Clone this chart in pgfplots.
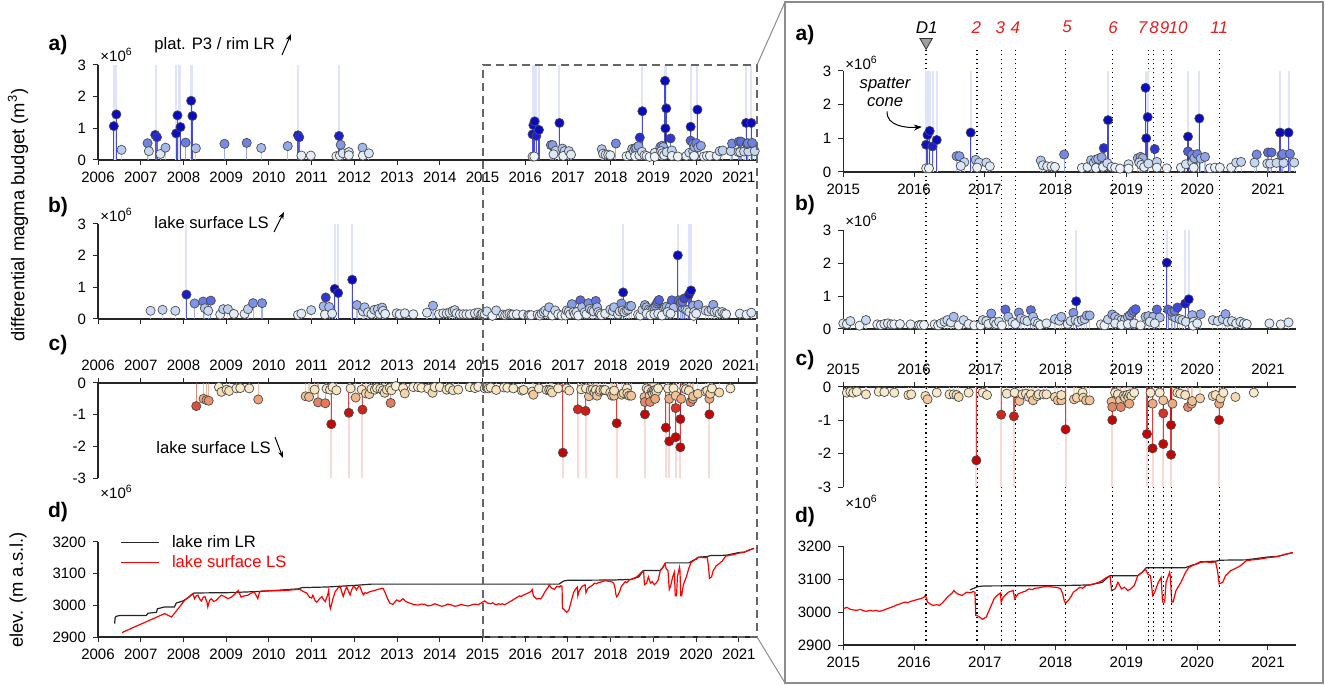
\documentclass[border=0pt]{standalone}
\usepackage{fontspec}
\setmainfont{Liberation Sans}
\usepackage{pgfplots}
\pgfplotsset{compat=1.18}
\usepackage{pgfplotstable}
\usetikzlibrary{arrows.meta}

\definecolor{faintblue}{RGB}{224,228,250}
\definecolor{faintred}{RGB}{250,218,214}
\definecolor{boxgray}{RGB}{140,140,140}
\definecolor{axisgray}{RGB}{38,38,38}
\definecolor{evred}{RGB}{230,30,30}

\pgfplotsset{
  colormap={blues}{rgb255=(240,244,251) rgb255=(205,222,243) rgb255=(160,182,236) rgb255=(105,125,228) rgb255=(40,45,210) rgb255=(10,10,195)},
  colormap={reds}{rgb255=(250,240,212) rgb255=(246,222,180) rgb255=(240,182,135) rgb255=(228,120,90) rgb255=(210,40,30) rgb255=(195,5,5)},
  panel/.style={scale only axis, anchor=south west,
    axis line style={axisgray, line width=0.6pt},
    tick style={axisgray, line width=0.5pt},
    tick align=outside, major tick length=2.5pt,
    tick label style={font=\fontsize{7.5}{9}\selectfont},
    /pgf/number format/1000 sep={},
    /pgf/number format/assume math mode=true},
  leftx/.style={xmin=2006, xmax=2021.4, xtick={2006,...,2021}, width=329pt},
  rightx/.style={xmin=2015, xmax=2021.4, xtick={2015,...,2021}, width=226.5pt,
    restrict x to domain=2014.99:2021.45},
  budget/.style={ymin=0, ymax=3, ytick={0,1,2,3}, axis x line*=bottom, axis y line*=left,
    colormap name=blues, point meta min=0.1, point meta max=0.85},
  loss/.style={ymin=-3, ymax=0, ytick={-3,-2,-1,0}, yticklabels={-3,-2,-1,0},
    axis x line*=top, axis y line*=left,
    colormap name=reds, point meta min=0.1, point meta max=1.0},
  elev/.style={ymin=2900, ymax=3200, ytick={2900,3000,3100,3200}, axis x line*=bottom, axis y line*=left},
  dots/.style={scatter, only marks, mark=*, mark size=2.3pt,
    scatter/use mapped color={draw=black!70, fill=mapped color},
    mark options={line width=0.35pt}},
  stems/.style={quiver={u=0, v={-(\thisrow{y})}, colored}, line width=0.6pt, opacity=0.7, forget plot},
  evline/.style={black, line width=0.65pt, dash pattern=on 0.65pt off 1.6pt, forget plot},
}

% differential magma budget, plateau P3 / rim LR (10^6 m^3)
\pgfplotstableread{
x y
2006.37 1.07
2006.43 1.44
2006.55 0.32
2007.16 0.53
2007.19 0.28
2007.34 0.79
2007.38 0.72
2007.46 0.19
2007.58 0.39
2007.83 0.84
2007.86 1.41
2007.93 1.04
2008.05 0.55
2008.18 1.87
2008.21 1.39
2008.29 0.37
2008.96 0.51
2009.48 0.54
2009.82 0.38
2010.44 0.44
2010.68 0.78
2010.71 0.72
2010.76 0.14
2010.98 0.14
2011.58 0.12
2011.64 0.76
2011.68 0.48
2011.66 0.14
2011.73 0.21
2011.87 0.25
2011.87 0.15
2012.19 0.39
2012.20 0.14
2012.34 0.21
2016.17 0.11
2016.21 0.11
2016.17 0.81
2016.19 1.10
2016.22 1.22
2016.26 0.76
2016.32 0.95
2016.60 0.47
2016.64 0.47
2016.71 0.29
2016.66 0.18
2016.80 1.17
2016.87 0.36
2016.92 0.28
2016.89 0.13
2017.02 0.28
2017.07 0.17
2017.79 0.34
2017.82 0.20
2017.88 0.17
2017.94 0.17
2017.99 0.15
2018.12 0.52
2018.37 0.12
2018.45 0.15
2018.50 0.35
2018.54 0.28
2018.57 0.37
2018.60 0.39
2018.65 0.44
2018.57 0.12
2018.67 0.15
2018.73 0.26
2018.79 0.15
2018.84 0.13
2018.91 0.10
2018.68 0.71
2018.74 1.54
2019.03 0.23
2019.03 0.10
2019.16 0.41
2019.20 0.45
2019.23 0.41
2019.18 0.28
2019.21 0.21
2019.25 0.15
2019.31 0.25
2019.27 2.50
2019.30 1.63
2019.28 1.00
2019.40 0.68
2019.43 0.30
2019.43 0.13
2019.57 0.11
2019.77 0.13
2019.84 0.23
2019.93 0.28
2019.95 0.13
2019.87 0.61
2019.93 0.51
2019.96 0.41
2020.00 0.53
2020.05 0.40
2020.11 0.45
2019.87 1.05
2020.03 1.59
2020.18 0.11
2020.25 0.13
2020.32 0.13
2020.48 0.13
2020.55 0.28
2020.62 0.30
2020.81 0.28
2020.84 0.52
2020.99 0.25
2021.03 0.25
2021.12 0.27
2021.22 0.27
2021.37 0.28
2021.00 0.58
2021.05 0.58
2021.19 0.50
2021.21 0.53
2021.31 0.54
2021.17 1.17
2021.29 1.17
}\aTab
\pgfplotstableread{
x y
2006.37 3
2006.43 3
2007.36 3
2007.83 3
2007.90 3
2007.93 3
2008.18 3
2008.21 3
2010.68 3
2011.64 3
2016.17 3
2016.19 3
2016.22 3
2016.26 3
2016.32 3
2016.80 3
2018.74 3
2019.27 3
2019.30 3
2019.87 3
2020.03 3
2021.17 3
2021.29 3
}\aHi

% lake surface LS, gains (10^6 m^3)
\pgfplotstableread{
x y
2007.23 0.26
2007.51 0.29
2007.81 0.26
2008.07 0.77
2008.26 0.49
2008.46 0.55
2008.50 0.34
2008.58 0.26
2008.64 0.58
2008.86 0.14
2008.93 0.31
2009.04 0.31
2009.18 0.16
2009.43 0.16
2009.51 0.31
2009.63 0.50
2009.84 0.50
2010.68 0.13
2010.76 0.17
2010.99 0.28
2011.28 0.40
2011.31 0.14
2011.41 0.38
2011.48 0.17
2011.33 0.68
2011.54 0.95
2011.62 0.82
2011.95 1.24
2012.06 0.44
2012.20 0.24
2012.24 0.37
2012.32 0.21
2012.40 0.16
2012.47 0.29
2012.55 0.31
2012.59 0.16
2012.65 0.36
2012.67 0.26
2012.72 0.16
2012.99 0.18
2013.06 0.15
2013.18 0.18
2013.38 0.15
2013.70 0.20
2013.84 0.42
2013.98 0.15
2014.08 0.18
2014.16 0.18
2014.23 0.20
2014.30 0.25
2014.35 0.28
2014.39 0.18
2014.47 0.15
2014.55 0.15
2014.62 0.15
2014.70 0.15
2014.82 0.18
2014.90 0.20
2014.97 0.15
2015.00 0.17
2015.05 0.15
2015.10 0.24
2015.23 0.10
2015.32 0.27
2015.48 0.14
2015.53 0.12
2015.58 0.15
2015.63 0.17
2015.68 0.14
2015.72 0.14
2015.80 0.15
2015.95 0.14
2016.07 0.12
2016.10 0.12
2016.14 0.12
2016.29 0.14
2016.34 0.11
2016.38 0.17
2016.43 0.22
2016.47 0.27
2016.52 0.20
2016.56 0.37
2016.63 0.11
2016.70 0.27
2016.77 0.15
2016.85 0.11
2016.94 0.11
2016.97 0.27
2017.02 0.24
2017.05 0.15
2017.09 0.47
2017.13 0.22
2017.16 0.15
2017.20 0.22
2017.24 0.11
2017.29 0.59
2017.33 0.37
2017.39 0.21
2017.43 0.15
2017.48 0.50
2017.51 0.32
2017.56 0.27
2017.60 0.24
2017.65 0.57
2017.68 0.37
2017.71 0.22
2017.75 0.17
2017.78 0.12
2017.87 0.17
2017.99 0.30
2018.05 0.25
2018.08 0.37
2018.17 0.15
2018.21 0.24
2018.25 0.49
2018.28 0.27
2018.32 0.22
2018.37 0.27
2018.41 0.30
2018.44 0.41
2018.48 0.41
2018.29 0.84
2018.64 0.14
2018.69 0.11
2018.74 0.29
2018.80 0.44
2018.84 0.37
2018.89 0.30
2018.93 0.27
2018.98 0.29
2019.02 0.37
2019.05 0.42
2019.08 0.49
2019.10 0.55
2019.13 0.60
2018.84 0.17
2018.93 0.12
2019.02 0.15
2019.11 0.17
2019.20 0.11
2019.27 0.37
2019.31 0.39
2019.38 0.37
2019.43 0.59
2019.47 0.35
2019.33 0.22
2019.40 0.17
2019.65 0.39
2019.69 0.35
2019.75 0.30
2019.79 0.27
2019.84 0.22
2019.59 0.59
2019.64 0.52
2019.68 0.55
2019.72 0.65
2019.93 0.42
2019.95 0.22
2020.05 0.45
2019.94 0.10
2020.00 0.17
2019.57 2.01
2019.83 0.77
2019.88 0.90
2020.22 0.27
2020.29 0.24
2020.36 0.30
2020.40 0.45
2020.43 0.22
2020.49 0.24
2020.55 0.17
2020.61 0.22
2020.66 0.17
2020.70 0.15
2021.02 0.17
2021.18 0.14
2021.29 0.20
}\bTab
\pgfplotstableread{
x y
2008.07 3
2011.54 3
2011.62 3
2011.95 3
2018.29 3
2019.57 3
2019.83 3
2019.88 3
}\bHi

% lake surface LS, losses (10^6 m^3)
\pgfplotstableread{
x y
2008.83 -0.13
2008.89 -0.28
2009.01 -0.21
2009.07 -0.25
2009.24 -0.17
2009.33 -0.16
2009.54 -0.17
2008.47 -0.50
2008.54 -0.54
2008.59 -0.56
2008.30 -0.73
2009.75 -0.52
2010.86 -0.42
2010.94 -0.44
2011.07 -0.21
2011.35 -0.18
2011.43 -0.21
2011.49 -0.13
2011.58 -0.23
2011.15 -0.61
2011.32 -0.64
2011.46 -1.30
2011.91 -0.17
2011.87 -0.94
2012.03 -0.46
2012.17 -0.21
2012.27 -0.33
2012.35 -0.35
2012.40 -0.18
2012.48 -0.21
2012.53 -0.16
2012.61 -0.18
2012.67 -0.23
2012.71 -0.31
2012.76 -0.21
2012.83 -0.16
2012.87 -0.23
2012.97 -0.10
2013.14 -0.16
2013.18 -0.33
2012.19 -0.84
2012.85 -0.63
2013.38 -0.13
2013.49 -0.13
2013.57 -0.15
2013.73 -0.18
2013.83 -0.31
2013.88 -0.13
2014.00 -0.13
2014.16 -0.21
2014.23 -0.16
2014.31 -0.23
2014.43 -0.21
2014.70 -0.13
2014.82 -0.16
2014.90 -0.12
2015.05 -0.17
2015.10 -0.14
2015.14 -0.17
2015.19 -0.14
2015.32 -0.22
2015.50 -0.14
2015.58 -0.15
2015.72 -0.17
2015.92 -0.24
2015.96 -0.22
2016.16 -0.27
2016.19 -0.37
2016.32 -0.17
2016.50 -0.22
2016.56 -0.22
2016.60 -0.24
2016.63 -0.30
2016.77 -0.17
2016.97 -0.17
2017.03 -0.24
2017.31 -0.20
2017.42 -0.17
2017.49 -0.42
2017.53 -0.22
2017.58 -0.20
2017.62 -0.30
2017.65 -0.22
2017.68 -0.40
2017.74 -0.27
2017.76 -0.22
2017.83 -0.22
2017.87 -0.22
2017.99 -0.30
2018.03 -0.40
2018.08 -0.40
2018.08 -0.24
2018.26 -0.37
2018.30 -0.32
2018.38 -0.17
2018.39 -0.32
2018.43 -0.40
2018.48 -0.40
2018.79 -0.44
2018.80 -0.60
2018.84 -0.17
2018.88 -0.22
2018.91 -0.40
2018.92 -0.60
2018.96 -0.27
2018.98 -0.32
2019.01 -0.24
2019.03 -0.30
2019.05 -0.22
2019.07 -0.27
2019.11 -0.17
2019.04 -0.50
2019.34 -0.17
2019.37 -0.50
2019.47 -0.17
2019.52 -0.79
2019.52 -0.40
2019.65 -0.50
2019.72 -0.17
2019.76 -0.20
2019.83 -0.24
2019.87 -0.60
2019.92 -0.50
2019.93 -0.42
2020.04 -0.34
2020.22 -0.27
2020.26 -0.24
2020.31 -0.50
2020.33 -0.34
2020.37 -0.17
2020.54 -0.30
2020.80 -0.17
2016.88 -2.20
2017.23 -0.83
2017.41 -0.88
2018.14 -1.27
2018.80 -0.99
2019.29 -1.41
2019.37 -1.84
2019.52 -1.71
2019.63 -1.14
2019.63 -2.03
2020.31 -0.99
}\cTab
\pgfplotstableread{
x y
2011.46 -3
2011.87 -3
2012.19 -3
2016.88 -3
2017.23 -3
2017.41 -3
2018.14 -3
2018.80 -3
2019.29 -3
2019.37 -3
2019.52 -3
2019.63 -3
2020.31 -3
}\cHi

% lake rim LR (m a.s.l.)
\pgfplotstableread{
x y
2006.39 2942
2006.40 2960
2006.42 2965
2006.51 2968
2007.13 2968
2007.17 2975
2007.37 2978
2007.39 2989
2007.56 2995
2007.79 2995
2007.83 3007
2007.99 3014
2008.11 3024
2008.22 3037
2008.26 3039
2009.04 3040
2009.82 3044
2010.68 3052
2010.78 3056
2011.38 3058
2012.01 3063
2012.40 3067
2016.79 3067
2016.90 3077
2016.99 3079
2018.07 3080
2018.48 3082
2018.66 3090
2018.75 3108
2018.77 3110
2019.16 3110
2019.22 3120
2019.27 3132
2019.28 3134
2019.83 3134
2019.88 3138
2019.93 3142
2020.02 3147
2020.04 3152
2020.26 3154
2020.33 3157
2020.69 3158
2020.87 3163
2021.01 3167
2021.13 3168
2021.25 3175
2021.35 3180
}\rimTab

% lake surface LS (m a.s.l.)
\pgfplotstableread{
x y
2006.56 2914
2007.56 2974
2007.72 2963
2008.03 3016
2008.22 3037
2008.26 3021
2008.30 3030
2008.34 3032
2008.38 3020
2008.42 3014
2008.46 3025
2008.50 3028
2008.55 3010
2008.57 2995
2008.61 3015
2008.65 3021
2008.71 3012
2008.77 3016
2008.83 3025
2008.89 3032
2008.96 3028
2009.04 3021
2009.12 3026
2009.20 3035
2009.28 3047
2009.35 3026
2009.43 3030
2009.51 3032
2009.58 3038
2009.66 3042
2009.74 3021
2009.78 3042
2009.82 3045
2010.00 3046
2010.20 3046
2010.40 3047
2010.55 3049
2010.68 3050
2010.72 3051
2010.80 3044
2010.88 3039
2010.95 3026
2011.00 3023
2011.03 3032
2011.08 3015
2011.12 3010
2011.18 3020
2011.24 3028
2011.28 3018
2011.32 3012
2011.38 3035
2011.40 3048
2011.42 3000
2011.44 2990
2011.47 3005
2011.49 3017
2011.55 3043
2011.62 3055
2011.67 3059
2011.71 3040
2011.74 3028
2011.78 3045
2011.82 3059
2011.86 3045
2011.90 3033
2011.94 3050
2011.98 3060
2012.02 3055
2012.05 3049
2012.10 3060
2012.13 3059
2012.17 3045
2012.21 3033
2012.25 3040
2012.29 3038
2012.36 3043
2012.45 3046
2012.52 3049
2012.60 3052
2012.67 3054
2012.72 3040
2012.78 3020
2012.83 3007
2012.90 3003
2012.99 3017
2013.06 3012
2013.14 3021
2013.20 3012
2013.30 3007
2013.40 3002
2013.49 3001
2013.57 3004
2013.65 3003
2013.72 2998
2013.80 3000
2013.88 3005
2013.96 3001
2014.04 2997
2014.11 2999
2014.19 3004
2014.27 3001
2014.35 2997
2014.43 2999
2014.50 3003
2014.58 3000
2014.66 2998
2014.74 3001
2014.82 3004
2014.90 3002
2015.00 3010
2015.05 3014
2015.10 3008
2015.15 3006
2015.19 3005
2015.24 3008
2015.28 3004
2015.33 3002
2015.37 3005
2015.42 3003
2015.46 3005
2015.51 3002
2015.55 3004
2015.62 3010
2015.69 3015
2015.74 3020
2015.78 3023
2015.83 3027
2015.87 3030
2015.91 3028
2015.95 3032
2016.00 3035
2016.05 3038
2016.10 3041
2016.14 3045
2016.16 3050
2016.19 3030
2016.23 3024
2016.27 3020
2016.32 3022
2016.36 3020
2016.41 3030
2016.47 3045
2016.54 3058
2016.56 3065
2016.61 3055
2016.68 3050
2016.74 3060
2016.80 3058
2016.83 3062
2016.86 3060
2016.87 2990
2016.90 2988
2016.94 2982
2016.97 2978
2017.02 2985
2017.08 3015
2017.13 3040
2017.17 3050
2017.22 3058
2017.23 3030
2017.26 3045
2017.33 3060
2017.40 3065
2017.42 3040
2017.47 3055
2017.53 3060
2017.58 3064
2017.62 3070
2017.67 3068
2017.71 3072
2017.76 3073
2017.80 3075
2017.85 3077
2017.89 3078
2017.94 3076
2017.98 3075
2018.03 3074
2018.07 3070
2018.10 3055
2018.12 3035
2018.14 3027
2018.18 3035
2018.22 3048
2018.25 3060
2018.30 3068
2018.34 3075
2018.38 3072
2018.43 3080
2018.48 3082
2018.52 3084
2018.61 3090
2018.66 3096
2018.72 3105
2018.77 3108
2018.79 3065
2018.84 3070
2018.88 3090
2018.93 3070
2018.97 3075
2019.02 3065
2019.06 3070
2019.11 3080
2019.16 3110
2019.22 3120
2019.27 3130
2019.30 3115
2019.34 3110
2019.37 3050
2019.40 3060
2019.45 3090
2019.49 3105
2019.51 3030
2019.54 3030
2019.56 3090
2019.61 3120
2019.62 3110
2019.64 3030
2019.66 3030
2019.70 3065
2019.77 3090
2019.83 3118
2019.88 3135
2019.95 3142
2020.02 3150
2020.11 3152
2020.20 3150
2020.26 3152
2020.29 3120
2020.31 3085
2020.36 3090
2020.40 3110
2020.47 3125
2020.54 3132
2020.61 3140
2020.69 3155
2020.78 3158
2020.87 3160
2021.01 3165
2021.13 3168
2021.25 3175
2021.35 3180
}\lsTab

\begin{document}
\begin{tikzpicture}
\useasboundingbox (0,0) rectangle (662.5pt,342.5pt);

% ---------- left column: 2006-2021 ----------
\begin{axis}[panel, leftx, budget, at={(49pt,262.5pt)}, height=47.5pt]
  \addplot[ycomb, faintblue, line width=1pt, forget plot] table {\aHi};
  \addplot[stems, point meta=\thisrow{y}] table {\aTab};
  \addplot[dots, point meta=\thisrow{y}] table {\aTab};
\end{axis}

\begin{axis}[panel, leftx, budget, at={(49pt,183pt)}, height=47.5pt, xticklabels={}]
  \addplot[ycomb, faintblue, line width=1pt, forget plot] table {\bHi};
  \addplot[stems, point meta=\thisrow{y}] table {\bTab};
  \addplot[dots, point meta=\thisrow{y}] table {\bTab};
\end{axis}

\begin{axis}[panel, leftx, loss, at={(49pt,103.5pt)}, height=47.5pt]
  \addplot[ycomb, faintred, line width=1pt, forget plot] table {\cHi};
  \addplot[stems, point meta={abs(\thisrow{y})}] table {\cTab};
  \addplot[dots, point meta={abs(\thisrow{y})}] table {\cTab};
\end{axis}

\begin{axis}[panel, leftx, elev, at={(49pt,24pt)}, height=47.5pt,
  legend style={at={(rel axis cs:0.025,1.16)}, anchor=north west, draw=none, fill=none,
    font=\fontsize{8.3}{10}\selectfont, row sep=-1.5pt},
  legend cell align=left,
  legend image code/.code={\draw[#1, line width=0.6pt] (0pt,0pt) -- (19pt,0pt);}]
  \addplot[axisgray, line width=0.6pt] table {\rimTab};
  \addlegendentry{\hspace{4pt}lake rim LR}
  \addplot[red, line width=0.6pt] table {\lsTab};
  \addlegendentry{\hspace{4pt}\textcolor{red}{lake surface LS}}
\end{axis}

% ---------- right column: 2015-2021 ----------
\begin{axis}[panel, rightx, elev, at={(421.65pt,20pt)}, height=49.5pt, clip=false]
  \addplot[axisgray, line width=0.6pt] table {\rimTab};
  \addplot[red, line width=0.6pt] table {\lsTab};
  \pgfplotsinvokeforeach{2016.17,2016.89,2017.23,2017.43,2018.14,2018.80,2019.31,2019.38,2019.52,2019.64,2020.31}{
    \addplot[evline] coordinates {(#1,2900) (#1,4709)};
  }
  \addplot[only marks, mark=triangle*, mark size=3.6pt,
    mark options={rotate=180, fill=gray!75, draw=black!80, line width=0.4pt}, forget plot]
    coordinates {(2016.17,4727)};
  \node[font=\itshape\fontsize{8.5}{10}\selectfont] at (axis cs:2016.18,4772) {D1};
  \begin{scope}[every node/.style={font=\itshape\fontsize{8.5}{10}\selectfont, text=evred}]
    \node at (axis cs:2016.88,4772) {2};
    \node at (axis cs:2017.22,4772) {3};
    \node at (axis cs:2017.43,4772) {4};
    \node at (axis cs:2018.16,4772) {5};
    \node at (axis cs:2018.81,4772) {6};
    \node at (axis cs:2019.23,4772) {7};
    \node at (axis cs:2019.39,4772) {8};
    \node at (axis cs:2019.54,4772) {9};
    \node at (axis cs:2019.73,4772) {10};
    \node at (axis cs:2020.31,4772) {11};
  \end{scope}
\end{axis}

\begin{axis}[panel, rightx, budget, at={(421.65pt,256.5pt)}, height=50.5pt]
  \addplot[ycomb, faintblue, line width=1pt, forget plot] table {\aHi};
  \addplot[stems, point meta=\thisrow{y}] table {\aTab};
  \addplot[dots, point meta=\thisrow{y}] table {\aTab};
  \node[font=\itshape\fontsize{8.3}{9}\selectfont, align=center] at (axis cs:2015.59,2.38) {spatter\\cone};
  \draw[-{Stealth[length=4pt]}, line width=0.5pt] (axis cs:2015.62,1.80) to[out=-95,in=185] (axis cs:2016.11,1.34);
\end{axis}

\begin{axis}[panel, rightx, budget, at={(421.65pt,178pt)}, height=49.5pt, xticklabels={}]
  \addplot[ycomb, faintblue, line width=1pt, forget plot] table {\bHi};
  \addplot[stems, point meta=\thisrow{y}] table {\bTab};
  \addplot[dots, point meta=\thisrow{y}] table {\bTab};
\end{axis}

\begin{axis}[panel, rightx, loss, at={(421.65pt,99pt)}, height=50pt]
  \addplot[ycomb, faintred, line width=1pt, forget plot] table {\cHi};
  \addplot[stems, point meta={abs(\thisrow{y})}] table {\cTab};
  \addplot[dots, point meta={abs(\thisrow{y})}] table {\cTab};
\end{axis}

% ---------- frames, connectors and labels ----------
\draw[black!60, line width=0.7pt, dash pattern=on 4pt off 2.5pt] (241.4pt,24pt) rectangle (378.5pt,310pt);
\draw[boxgray, line width=0.5pt] (378.5pt,310pt) -- (392.5pt,341.5pt);
\draw[boxgray, line width=0.5pt] (378.5pt,24pt) -- (392.5pt,1pt);
\draw[boxgray, line width=1pt] (392.5pt,1pt) rectangle (661.5pt,341.5pt);

\begin{scope}[every node/.style={font=\bfseries\fontsize{10.5}{12}\selectfont}]
  \node at (29pt,320pt) {a)};
  \node at (29pt,239pt) {b)};
  \node at (29pt,170pt) {c)};
  \node at (29pt,86.5pt) {d)};
  \node at (402.5pt,325pt) {a)};
  \node at (402.5pt,240pt) {b)};
  \node at (402.5pt,162.5pt) {c)};
  \node at (402.5pt,84pt) {d)};
\end{scope}

\begin{scope}[every node/.style={font=\fontsize{7.5}{9}\selectfont, anchor=west, inner sep=0pt}]
  \node at (50pt,315pt) {×10\textsuperscript{6}};
  \node at (50pt,235pt) {×10\textsuperscript{6}};
  \node at (50pt,96.5pt) {×10\textsuperscript{6}};
  \node at (422.5pt,311pt) {×10\textsuperscript{6}};
  \node at (422.5pt,232.5pt) {×10\textsuperscript{6}};
  \node at (422.5pt,91.5pt) {×10\textsuperscript{6}};
\end{scope}

\begin{scope}[every node/.style={font=\fontsize{8.3}{10}\selectfont, anchor=west, inner sep=0pt}]
  \node at (77pt,320pt) {plat. P3 / rim LR};
  \node at (77pt,231pt) {lake surface LS};
  \node at (78pt,118.5pt) {lake surface LS};
\end{scope}
\draw[-{Stealth[length=3.5pt]}, line width=0.5pt] (141pt,315pt) -- (145.5pt,325.5pt);
\draw[-{Stealth[length=3.5pt]}, line width=0.5pt] (137pt,226.5pt) -- (142pt,236.5pt);
\draw[-{Stealth[length=3.5pt]}, line width=0.5pt] (137.5pt,124pt) -- (141.5pt,113.5pt);

\node[rotate=90, font=\fontsize{9.2}{11}\selectfont] at (9pt,235pt) {differential magma budget (m\textsuperscript{3})};
\node[rotate=90, font=\fontsize{9.2}{11}\selectfont] at (9pt,47.5pt) {elev. (m a.s.l.)};
\end{tikzpicture}
\end{document}
